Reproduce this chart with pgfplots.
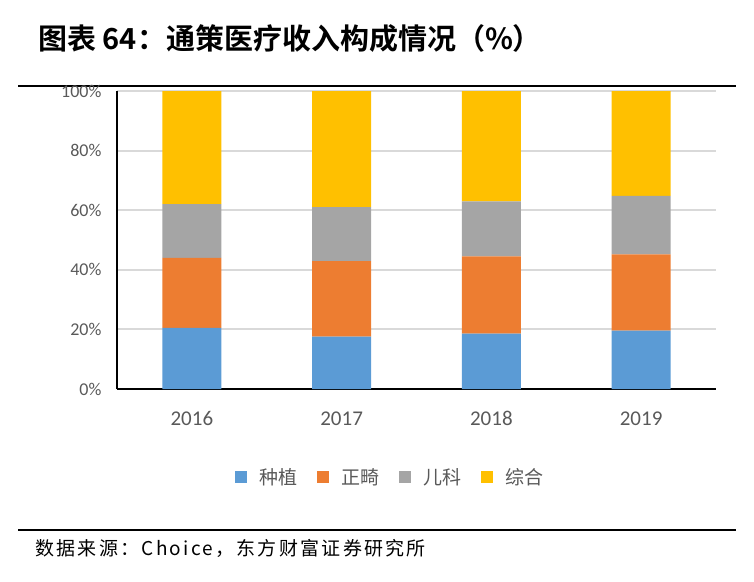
\documentclass[border=0pt]{standalone}
\usepackage{fontspec}
\usepackage{pgfplots}
\pgfplotsset{compat=1.18}
\setmainfont{Carlito}
\newfontfamily\cjk{Noto Sans CJK SC}
\newfontfamily\cjkb{Noto Sans CJK SC Bold}
\newfontfamily\cjks[LetterSpace=12]{Noto Sans CJK SC}
\definecolor{cBlue}{HTML}{5B9BD5}
\definecolor{cOrange}{HTML}{ED7D31}
\definecolor{cGray}{HTML}{A5A5A5}
\definecolor{cYellow}{HTML}{FFC000}
\definecolor{txt}{HTML}{595959}
\definecolor{gridc}{HTML}{D9D9D9}
\begin{document}
\begin{tikzpicture}
\path (0pt,0pt) rectangle (754pt,-581pt);
\node[anchor=base west,inner sep=0pt] at (38pt,-49pt) {\cjkb\fontsize{29}{32}\selectfont 图表 64：通策医疗收入构成情况（\%）};
\draw[line width=2pt] (18pt,-86pt) -- (736pt,-86pt);
\draw[line width=2pt] (18pt,-530pt) -- (736pt,-530pt);
\node[anchor=base west,inner sep=0pt] at (35pt,-555pt) {\cjks\fontsize{19}{22}\selectfont 数据来源：Choice，东方财富证券研究所};
\begin{axis}[
  at={(117pt,-389pt)}, anchor=south west,
  scale only axis, width=599pt, height=298pt,
  ybar stacked, bar width=59pt,
  xmin=-0.5, xmax=3.5, ymin=0, ymax=100,
  xtick=data, xticklabels={2016,2017,2018,2019},
  ytick={0,20,40,60,80,100},
  yticklabels={0\%,20\%,40\%,60\%,80\%,100\%},
  axis x line*=bottom, axis y line*=left,
  x axis line style={black,line width=2pt,-},
  y axis line style={black,line width=1.5pt,-},
  major tick length=0pt,
  ymajorgrids, grid style={gridc,line width=2pt},
  xticklabel style={font=\fontsize{21}{24}\selectfont,text=txt,yshift=-19pt},
  yticklabel style={font=\fontsize{18}{20}\selectfont,text=txt,xshift=-12pt},
  legend style={draw=none,at={(0.456,-0.295)},anchor=center,
    legend columns=4,font=\cjk\fontsize{19}{22}\selectfont,text=txt,
    /tikz/every odd column/.append style={column sep=10pt},
    /tikz/every even column/.append style={column sep=18pt}},
  legend image code/.code={\fill[#1,draw=none] (0pt,-6pt) rectangle (12pt,6pt);},
]
\addplot[fill=cBlue,draw=none] coordinates {(0,20.5) (1,17.6) (2,18.6) (3,19.6)};
\addplot[fill=cOrange,draw=none] coordinates {(0,23.5) (1,25.3) (2,25.9) (3,25.6)};
\addplot[fill=cGray,draw=none] coordinates {(0,18.0) (1,18.1) (2,18.5) (3,19.6)};
\addplot[fill=cYellow,draw=none] coordinates {(0,38.0) (1,39.0) (2,37.0) (3,35.2)};
\legend{种植,正畸,儿科,综合}
\end{axis}
\end{tikzpicture}
\end{document}
